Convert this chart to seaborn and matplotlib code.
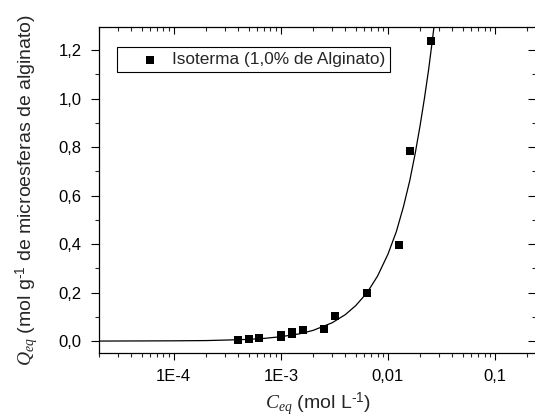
"""Isotherm of alginate microspheres (1.0%) - log-x scatter with fitted curve."""

import matplotlib
matplotlib.use("Agg")
import matplotlib.pyplot as plt
import matplotlib.ticker as mticker
import seaborn as sns
import pandas as pd

# measured points
c_eq = [4.0e-4, 5.0e-4, 6.3e-4, 1.0e-3, 1.0e-3, 1.26e-3, 1.26e-3, 1.6e-3,
        2.55e-3, 3.2e-3, 6.4e-3, 0.0127, 0.0162, 0.0254]
q_eq = [0.003, 0.007, 0.012, 0.016, 0.027, 0.030, 0.038, 0.046,
        0.050, 0.102, 0.200, 0.396, 0.784, 1.238]

# fitted curve
fit_c = [2e-5, 5e-5, 1e-4, 2e-4, 3e-4, 5e-4, 7e-4, 1e-3, 1.5e-3, 2e-3,
         3e-3, 4e-3, 5e-3, 6.4e-3, 8e-3, 1e-2, 1.2e-2, 1.4e-2, 1.6e-2,
         1.8e-2, 2e-2, 2.2e-2, 2.4e-2, 2.6e-2, 2.7e-2]
fit_q = [0.0, 0.0005, 0.001, 0.002, 0.004, 0.007, 0.011, 0.018, 0.030, 0.044,
         0.075, 0.109, 0.146, 0.200, 0.268, 0.358, 0.452, 0.556, 0.662,
         0.775, 0.890, 1.005, 1.120, 1.240, 1.300]

x_ticks = [1e-4, 1e-3, 1e-2, 1e-1]
x_tick_labels = ["1E-4", "1E-3", "0,01", "0,1"]
legend_label = "Isoterma (1,0% de Alginato)"

sns.set_style("ticks")
plt.rcParams["font.family"] = ["Liberation Sans", "DejaVu Sans"]
plt.rcParams["mathtext.fontset"] = "custom"
plt.rcParams["mathtext.rm"] = "Liberation Sans"
plt.rcParams["mathtext.it"] = "Liberation Serif:italic"

points = pd.DataFrame({"c": c_eq, "q": q_eq})
curve = pd.DataFrame({"c": fit_c, "q": fit_q})

fig = plt.figure(figsize=(5.35, 4.17), dpi=100)
ax = fig.add_axes([0.185, 0.1542, 0.817, 0.7803])

sns.lineplot(data=curve, x="c", y="q", ax=ax, color="black", lw=0.9,
             estimator=None, sort=False)
sns.scatterplot(data=points, x="c", y="q", ax=ax, marker="s", s=27,
                color="black", edgecolor="black", linewidth=0, label=legend_label,
                zorder=3)

ax.set_xscale("log")
ax.set_xlim(2e-5, 0.242)
ax.set_ylim(-0.048, 1.294)

ax.set_xticks(x_ticks)
ax.set_xticklabels(x_tick_labels)
ax.xaxis.set_minor_locator(mticker.LogLocator(base=10, subs=range(2, 10), numticks=20))
ax.xaxis.set_minor_formatter(mticker.NullFormatter())
ax.yaxis.set_major_locator(mticker.MultipleLocator(0.2))
ax.yaxis.set_minor_locator(mticker.MultipleLocator(0.1))
ax.yaxis.set_major_formatter(mticker.FuncFormatter(lambda v, p: f"{v:.1f}".replace(".", ",")))

ax.tick_params(axis="both", which="major", labelsize=12, width=0.8, length=5,
               color="black", labelcolor="black", pad=6.5)
ax.tick_params(axis="both", which="minor", width=0.8, length=3)
ax.tick_params(axis="x", which="both", top=True)
ax.tick_params(axis="y", which="both", right=True)
ax.tick_params(axis="y", which="major", length=6)
# top/right ticks point inward, bottom/left outward
for t in ax.xaxis.get_major_ticks() + ax.xaxis.get_minor_ticks():
    t.tick2line.set_marker(3)
for t in ax.yaxis.get_major_ticks() + ax.yaxis.get_minor_ticks():
    t.tick2line.set_marker(0)

for sp in ax.spines.values():
    sp.set_visible(True)
    sp.set_linewidth(0.9)
    sp.set_color("black")

ax.set_xlabel(r"$C_{eq}$ (mol L$^{\text{-1}}$)", fontsize=14)
ax.set_ylabel(r"$Q_{eq}$ (mol g$^{\text{-1}}$ de microesferas de alginato)",
              fontsize=14)
ax.xaxis.set_label_coords(0.5, -0.118)
ax.yaxis.set_label_coords(-0.133, 0.5)

leg = ax.legend(loc="upper left", bbox_to_anchor=(0.041, 0.9385), borderaxespad=0,
                fancybox=False, edgecolor="black", framealpha=1, fontsize=12.4,
                borderpad=0.28, handlelength=3.3, handletextpad=-0.36,
                markerscale=1.0)
leg.get_frame().set_linewidth(0.8)

fig.savefig("out.png", dpi=100)
